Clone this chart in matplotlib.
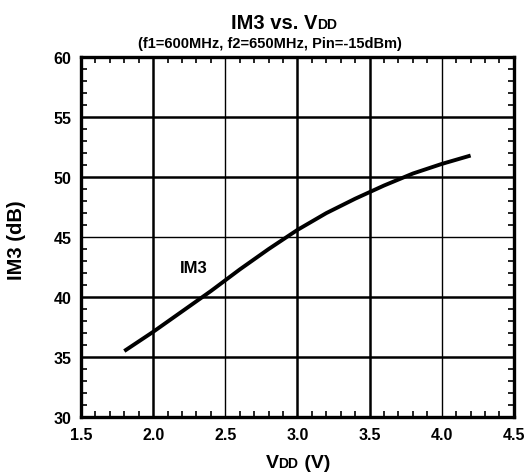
import matplotlib
matplotlib.use("Agg")
import matplotlib.pyplot as plt
from matplotlib.ticker import MultipleLocator

plt.rcParams['font.family'] = ['Liberation Sans', 'DejaVu Sans']
plt.rcParams['font.weight'] = 'bold'

vdd = [1.8, 2.0, 2.2, 2.4, 2.6, 2.8, 3.0, 3.2, 3.4, 3.6, 3.8, 4.0, 4.2]
im3 = [35.5, 37.1, 38.8, 40.5, 42.3, 44.0, 45.6, 47.0, 48.2, 49.3, 50.3, 51.1, 51.8]
xticks = [1.5, 2.0, 2.5, 3.0, 3.5, 4.0, 4.5]
yticks = [30, 35, 40, 45, 50, 55, 60]

fig = plt.figure(figsize=(5.26, 4.77), dpi=100)
ax = fig.add_axes([0.154, 0.1237, 0.823, 0.7543])
ax.set_xlim(1.5, 4.5)
ax.set_ylim(30, 60)
ax.set_xticks(xticks)
ax.set_xticklabels([f"{v:.1f}" for v in xticks])
ax.set_yticks(yticks)
ax.set_yticklabels([str(v) for v in yticks])
ax.xaxis.set_minor_locator(MultipleLocator(0.1))
ax.yaxis.set_minor_locator(MultipleLocator(1))
ax.tick_params(which='major', length=0, labelsize=11.5, pad=7)
ax.tick_params(which='minor', direction='in', length=4, width=1.2, top=True, right=True)
for s in ax.spines.values():
    s.set_linewidth(2.4)

thick_x = {2.0, 3.0, 3.5}
for v in xticks[1:-1]:
    ax.axvline(v, color='black', lw=1.8 if v in thick_x else 1.0, zorder=1)
thick_y = {35, 40, 50, 55}
for v in yticks[1:-1]:
    ax.axhline(v, color='black', lw=1.8 if v in thick_y else 1.0, zorder=1)

ax.plot(vdd, im3, color='black', lw=2.8, zorder=3, solid_capstyle='butt')
ax.text(2.28, 42.5, "IM3", fontsize=12, fontweight='bold', ha='center', va='center')

fig.text(17 / 526, 1 - 240 / 477, "IM3 (dB)", fontsize=14.5, fontweight='bold',
         rotation=90, ha='center', va='center')

fig.canvas.draw()
r = fig.canvas.get_renderer()

def seq_text(pieces, xc, y):
    objs = []
    widths = []
    for t, sz in pieces:
        o = fig.text(0, y, t, fontsize=sz, fontweight='bold', ha='left', va='baseline')
        objs.append(o)
        widths.append(o.get_window_extent(r).width)
    total = sum(widths)
    W = fig.bbox.width
    x = xc * W - total / 2
    for o, w in zip(objs, widths):
        o.set_x(x / W)
        x += w

seq_text([("IM3 vs. V", 14.5), ("DD", 10)], 0.540, 1 - 29 / 477)
fig.text(0.513, 1 - 44 / 477, "(f1=600MHz, f2=650MHz, Pin=-15dBm)", fontsize=10.5,
         fontweight='bold', ha='center', va='center')
seq_text([("V", 14), ("DD", 10), (" (V)", 14)], 0.566, 1 - 468 / 477)

fig.savefig("out.png", dpi=100)
